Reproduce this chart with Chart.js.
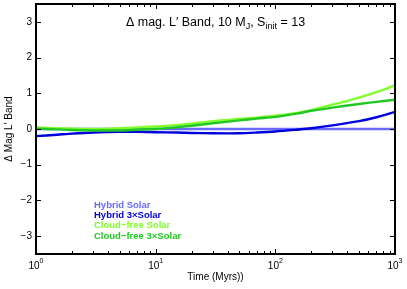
<!DOCTYPE html>
<html>
<head>
<meta charset="utf-8">
<script src="https://cdn.jsdelivr.net/npm/chart.js@4/dist/chart.umd.min.js"></script>
<style>
  html, body { margin: 0; padding: 0; background: #fff; }
  #wrap { width: 407px; height: 289px; }
</style>
</head>
<body>
<div id="wrap"><canvas id="chart" width="407" height="289"></canvas></div>
<script>
// time grid (Myrs)
const times = [1, 1.5, 2, 3, 5, 7, 10, 15, 20, 30, 50, 70, 100, 150, 200, 300, 500, 700, 1000];

// delta L' magnitude, relative to hybrid solar
const hybridSolar    = [0, 0, 0, 0, 0, 0, 0, 0, 0, 0, 0, 0, 0, 0, 0, 0, 0, 0, 0];
const hybrid3Solar   = [-0.2, -0.16, -0.13, -0.1, -0.08, -0.08, -0.09, -0.1, -0.11, -0.12, -0.12, -0.1, -0.07, -0.02, 0.02, 0.1, 0.22, 0.33, 0.48];
const cloudfreeSolar = [0.04, 0.02, 0.01, 0.0, 0.02, 0.04, 0.07, 0.11, 0.15, 0.22, 0.28, 0.32, 0.37, 0.45, 0.53, 0.68, 0.88, 1.03, 1.22];
const cloudfree3Solar = [0.01, -0.01, -0.03, -0.04, -0.04, -0.02, 0.0, 0.05, 0.09, 0.16, 0.24, 0.29, 0.34, 0.43, 0.51, 0.6, 0.7, 0.76, 0.82];

const seriesNames = ["Hybrid Solar", "Hybrid 3\u00d7Solar", "Cloud\u2212free Solar", "Cloud\u2212free 3\u00d7Solar"];
const seriesColors = ["#6a6aff", "#0000dc", "#80ff2a", "#22c822"];

const xMajor = [1, 10, 100, 1000];
const xExp = ["0", "1", "2", "3"];
const yTicks = [-3, -2, -1, 0, 1, 2, 3];

const FONT = '"Liberation Sans", Arial, sans-serif';

const pts = arr => arr.map((v, i) => ({ x: times[i], y: v }));

// frame, inward ticks, labels, title, legend text
const decor = {
  id: "decor",
  afterDraw(chart) {
    const ctx = chart.ctx;
    const a = chart.chartArea;
    const xs = chart.scales.x, ys = chart.scales.y;
    ctx.save();
    ctx.strokeStyle = "#000";
    ctx.fillStyle = "#000";

    // x ticks, top and bottom
    ctx.lineWidth = 1;
    for (let d = 0; d < 3; d++) {
      for (let m = 1; m < 10; m++) {
        const v = Math.pow(10, d) * m;
        const px = Math.round(xs.getPixelForValue(v)) + 0.5;
        const len = m === 1 ? 5 : 3;
        ctx.beginPath();
        ctx.moveTo(px, a.bottom); ctx.lineTo(px, a.bottom - len);
        ctx.moveTo(px, a.top); ctx.lineTo(px, a.top + len);
        ctx.stroke();
      }
    }
    // y ticks, left and right
    yTicks.forEach(v => {
      const py = Math.round(ys.getPixelForValue(v)) + 0.5;
      ctx.beginPath();
      ctx.moveTo(a.left, py); ctx.lineTo(a.left + 5, py);
      ctx.moveTo(a.right, py); ctx.lineTo(a.right - 5, py);
      ctx.stroke();
    });

    // frame
    ctx.lineWidth = 2;
    ctx.strokeRect(a.left, a.top, a.right - a.left, a.bottom - a.top);

    // y labels
    ctx.font = "10px " + FONT;
    ctx.textAlign = "right";
    ctx.textBaseline = "middle";
    yTicks.forEach(v => {
      const t = v < 0 ? "\u2212" + Math.abs(v) : String(v);
      ctx.fillText(t, a.left - 4, ys.getPixelForValue(v));
    });

    // x labels 10^n
    ctx.textBaseline = "alphabetic";
    xMajor.forEach((v, i) => {
      const px = xs.getPixelForValue(v);
      ctx.font = "10px " + FONT;
      const w = ctx.measureText("10").width;
      ctx.font = "7px " + FONT;
      const we = ctx.measureText(xExp[i]).width;
      const x0 = px - (w + we) / 2;
      ctx.textAlign = "left";
      ctx.font = "10px " + FONT;
      ctx.fillText("10", x0, 269);
      ctx.font = "7px " + FONT;
      ctx.fillText(xExp[i], x0 + w, 263);
    });

    // axis titles
    ctx.font = "10px " + FONT;
    ctx.textAlign = "center";
    ctx.fillText("Time (Myrs))", (a.left + a.right) / 2, 280);
    ctx.save();
    ctx.translate(12, (a.top + a.bottom) / 2);
    ctx.rotate(-Math.PI / 2);
    ctx.textBaseline = "alphabetic";
    ctx.fillText("\u0394 Mag L\u2032 Band", 0, 0);
    ctx.restore();

    // title with subscripts
    const parts = [
      ["\u0394 mag. L\u2032 Band, 10 M", 12.5, 0],
      ["J", 9, 3],
      [", S", 12.5, 0],
      ["init", 9, 3],
      [" = 13", 12.5, 0]
    ];
    let total = 0;
    parts.forEach(p => { ctx.font = p[1] + "px " + FONT; total += ctx.measureText(p[0]).width; });
    let tx = (a.left + a.right) / 2 - total / 2;
    ctx.textAlign = "left";
    parts.forEach(p => {
      ctx.font = p[1] + "px " + FONT;
      ctx.fillText(p[0], tx, 26 + p[2]);
      tx += ctx.measureText(p[0]).width;
    });

    // legend text
    ctx.font = "bold 9.5px " + FONT;
    ctx.textBaseline = "middle";
    seriesNames.forEach((n, i) => {
      ctx.fillStyle = seriesColors[i];
      ctx.fillText(n, 94, 205 + i * 10.3);
    });
    ctx.restore();
  }
};

const allSeries = [hybridSolar, hybrid3Solar, cloudfreeSolar, cloudfree3Solar];

new Chart(document.getElementById("chart"), {
  type: "line",
  data: {
    datasets: allSeries.map((s, i) => ({
      label: seriesNames[i],
      data: pts(s),
      borderColor: seriesColors[i],
      borderWidth: 2.4,
      pointRadius: 0,
      tension: 0.3,
      fill: false,
      order: 4 - i
    }))
  },
  options: {
    responsive: false,
    animation: false,
    layout: { padding: { left: 0, right: 12, top: 4, bottom: 0 } },
    plugins: { legend: { display: false }, tooltip: { enabled: false } },
    scales: {
      x: {
        type: "logarithmic",
        min: 1, max: 1000,
        grid: { display: false },
        border: { display: false },
        ticks: { display: false },
        afterFit: s => { s.height = 35; }
      },
      y: {
        min: -3.5, max: 3.5,
        grid: { display: false },
        border: { display: false },
        ticks: { display: false },
        afterFit: s => { s.width = 36; }
      }
    }
  },
  plugins: [decor]
});
</script>
</body>
</html>
